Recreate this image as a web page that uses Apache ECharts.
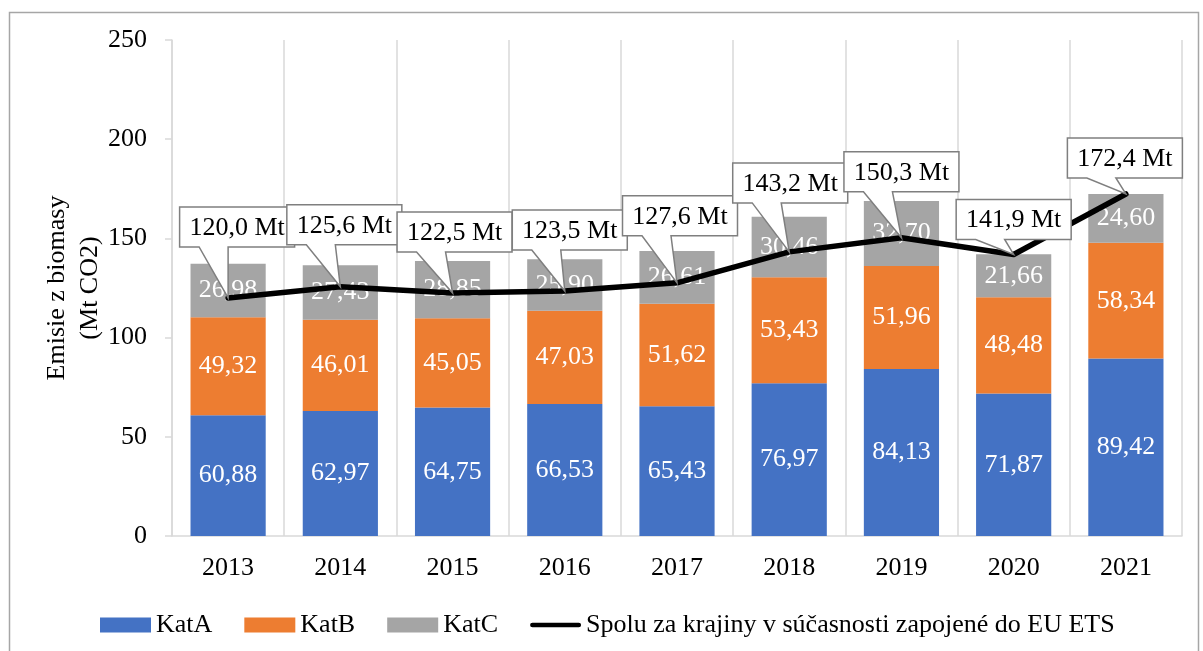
<!DOCTYPE html>
<html><head><meta charset="utf-8">
<script src="https://cdn.jsdelivr.net/npm/echarts@6/dist/echarts.min.js"></script>
<style>html,body{margin:0;padding:0;background:#fff}#c{width:1203px;height:651px}</style>
</head><body><div id="c"></div>
<script>
const years = ['2013','2014','2015','2016','2017','2018','2019','2020','2021'];
const katA = [60.88, 62.97, 64.75, 66.53, 65.43, 76.97, 84.13, 71.87, 89.42];
const katB = [49.32, 46.01, 45.05, 47.03, 51.62, 53.43, 51.96, 48.48, 58.34];
const katC = [26.98, 27.43, 28.85, 25.90, 26.61, 30.46, 32.70, 21.66, 24.60];
const spolu = [120.0, 125.6, 122.5, 123.5, 127.6, 143.2, 150.3, 141.9, 172.4];
const yTicks = [0, 50, 100, 150, 200, 250];
const seriesNames = ['KatA', 'KatB', 'KatC', 'Spolu za krajiny v súčasnosti zapojené do EU ETS'];

// callout styling (pixel offsets of each callout box relative to its point)
const calloutRise = [51, 42, 41, 41, 47, 49, 46, 15, 16];
const calloutShift = [9, 4, 2, 5, 3, 1, 0, 0, -1];

const FONT = '"Liberation Serif", "Times New Roman", serif';
const FS = 26;
const fmt2 = v => v.toFixed(2).replace('.', ',');
const fmt1 = v => v.toFixed(1).replace('.', ',') + ' Mt';

const chart = echarts.init(document.getElementById('c'), null, {renderer: 'canvas'});

function barSeries(name, data, color) {
  return {
    name, type: 'bar', stack: 'total', data, barWidth: '67%',
    itemStyle: {color},
    label: {show: true, position: 'inside', color: '#fff', fontFamily: FONT, fontSize: FS,
      formatter: p => fmt2(p.value)}
  };
}

chart.setOption({
  animation: false,
  textStyle: {fontFamily: FONT},
  graphic: [{
    type: 'rect', left: 7, top: 10, z: -10, silent: true,
    shape: {width: 1189, height: 660},
    style: {fill: 'none', stroke: '#A6A6A6', lineWidth: 1.5}
  }],
  grid: {left: 172, right: 21, top: 40, bottom: 115, containLabel: false},
  legend: {
    data: [
      {name: seriesNames[0], icon: 'rect'},
      {name: seriesNames[1], icon: 'rect'},
      {name: seriesNames[2], icon: 'rect'},
      {name: seriesNames[3], icon: 'path://M2.5,0 H51.5 A2.5,2.5 0 0 1 51.5,5 H2.5 A2.5,2.5 0 0 1 2.5,0 Z',
        itemStyle: {color: '#000', borderWidth: 0}}
    ],
    top: 607, left: 95, itemWidth: 51, itemHeight: 15, itemGap: 32,
    textStyle: {fontFamily: FONT, fontSize: FS, color: '#000'}
  },
  xAxis: {
    type: 'category', data: years, boundaryGap: true,
    axisLine: {show: true, lineStyle: {color: '#D9D9D9', width: 1.5}},
    axisTick: {show: false},
    splitLine: {show: true, lineStyle: {color: '#D9D9D9', width: 1.5}},
    axisLabel: {color: '#000', fontFamily: FONT, fontSize: FS, margin: 19}
  },
  yAxis: {
    type: 'value', min: yTicks[0], max: yTicks[yTicks.length - 1], interval: yTicks[1] - yTicks[0],
    name: 'Emisie z biomasy\n(Mt CO2)', nameLocation: 'middle', nameGap: 65, nameRotate: 90,
    nameMoveOverlap: false,
    nameTextStyle: {color: '#000', fontFamily: FONT, fontSize: FS, lineHeight: 33, align: 'center'},
    axisLine: {show: true, lineStyle: {color: '#D9D9D9', width: 1.5}},
    axisTick: {show: true, length: 7, lineStyle: {color: '#D9D9D9', width: 1.5}},
    splitLine: {show: false},
    axisLabel: {color: '#000', fontFamily: FONT, fontSize: FS, margin: 25}
  },
  series: [
    barSeries(seriesNames[0], katA, '#4472C4'),
    barSeries(seriesNames[1], katB, '#ED7D31'),
    barSeries(seriesNames[2], katC, '#A5A5A5'),
    {
      name: seriesNames[3], type: 'line', data: spolu, symbol: 'none', z: 5,
      lineStyle: {color: '#000', width: 5.5, cap: 'round', join: 'round'},
      itemStyle: {color: '#000'}
    },
    {
      name: 'callouts', type: 'custom', z: 10, silent: true,
      data: spolu.map((v, i) => [i, v]),
      encode: {x: 0, y: 1},
      renderItem: function (params, api) {
        const i = params.dataIndex;
        const pt = api.coord([api.value(0), api.value(1)]);
        const w = 115, h = 40;
        const cx = pt[0] + calloutShift[i];
        const B = pt[1] - calloutRise[i];
        const T = B - h, L = cx - w / 2, R = cx + w / 2;
        const bl = cx - 38, br = cx - 9;
        return {
          type: 'group',
          children: [
            {type: 'polygon', shape: {points: [[L, T], [R, T], [R, B], [br, B], [pt[0], pt[1]], [bl, B], [L, B]]},
              style: {fill: '#fff', stroke: '#7F7F7F', lineWidth: 1.5}},
            {type: 'text', style: {text: fmt1(api.value(1)), x: cx, y: (T + B) / 2 + 1,
              align: 'center', verticalAlign: 'middle', font: FS + 'px ' + FONT, fill: '#000'}}
          ]
        };
      }
    }
  ]
});
</script></body></html>
